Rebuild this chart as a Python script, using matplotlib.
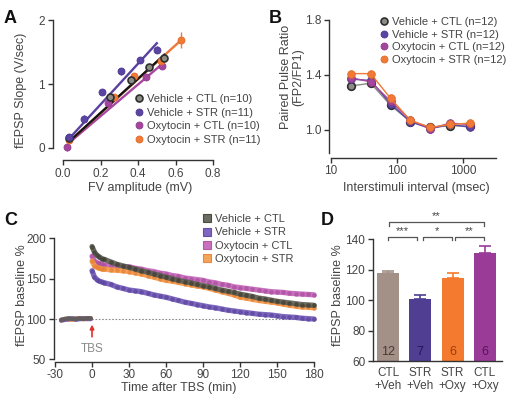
import numpy as np
import matplotlib
matplotlib.use("Agg")
import matplotlib.pyplot as plt
from matplotlib.lines import Line2D

plt.rcParams['font.family'] = ['Liberation Sans', 'DejaVu Sans']
plt.rcParams['axes.unicode_minus'] = False
TXT = '#444444'
plt.rcParams['text.color'] = TXT
plt.rcParams['axes.labelcolor'] = TXT
plt.rcParams['xtick.color'] = '#333333'
plt.rcParams['ytick.color'] = '#333333'
plt.rcParams['xtick.labelcolor'] = TXT
plt.rcParams['ytick.labelcolor'] = TXT

# ---------------- data ----------------
groups = ['Vehicle + CTL', 'Vehicle + STR', 'Oxytocin + CTL', 'Oxytocin + STR']
n_A = [10, 11, 10, 11]
n_B = [12, 12, 12, 12]

# Panel A: input-output
fv_veh_ctl = [0.03, 0.25, 0.36, 0.46, 0.54]
sl_veh_ctl = [0.15, 0.80, 1.07, 1.27, 1.41]
fv_veh_str = [0.03, 0.11, 0.21, 0.31, 0.41, 0.50]
sl_veh_str = [0.17, 0.46, 0.88, 1.20, 1.38, 1.54]
fv_oxy_ctl = [0.02, 0.24, 0.44, 0.53]
sl_oxy_ctl = [0.01, 0.70, 1.11, 1.28]
fv_oxy_str = [0.03, 0.27, 0.38, 0.52, 0.63]
sl_oxy_str = [0.13, 0.80, 1.12, 1.37, 1.69]
err_oxy_str = [0.03, 0.04, 0.05, 0.05, 0.12]
# fitted lines (x0, x1), (y0, y1)
fit_veh_ctl = ([0.04, 0.54], [0.12, 1.46])
fit_veh_str = ([0.04, 0.50], [0.17, 1.64])
fit_oxy_ctl = ([0.04, 0.535], [0.10, 1.33])
fit_oxy_str = ([0.04, 0.63], [0.12, 1.69])

# Panel B: paired pulse ratio
isi = [20, 40, 80, 160, 320, 640, 1280]
ppr_veh_ctl = [1.32, 1.34, 1.18, 1.06, 1.02, 1.03, 1.03]
ppr_veh_str = [1.37, 1.36, 1.19, 1.06, 1.01, 1.04, 1.02]
ppr_oxy_ctl = [1.38, 1.35, 1.21, 1.07, 1.01, 1.05, 1.04]
ppr_oxy_str = [1.41, 1.41, 1.23, 1.07, 1.02, 1.04, 1.05]

# Panel C: LTP time course
t_base = [-25, -22, -19, -16, -13, -10, -7, -4, -1]
base_veh_ctl = [99, 100, 101, 100, 100, 101, 100, 101, 101]
base_veh_str = [98, 99, 100, 101, 99, 100, 101, 100, 100]
base_oxy_ctl = [99, 100, 99, 100, 101, 100, 100, 101, 100]
base_oxy_str = [98, 100, 100, 99, 100, 101, 100, 100, 101]
t_post = [0, 2, 4, 6, 8, 10, 15, 20, 25, 30, 35, 40, 45, 50, 55, 60, 65, 70, 75, 80,
          85, 90, 95, 100, 105, 110, 115, 120, 125, 130, 135, 140, 145, 150, 155,
          160, 165, 170, 175, 180]
ltp_veh_ctl = [190, 183, 179, 177, 175, 174, 171, 168, 166, 164, 162, 160, 158, 156,
               154, 152, 150, 148, 146.5, 145, 143, 141.5, 140, 138, 136, 134.5, 133,
               131, 129.5, 128, 126, 125, 123.5, 122, 121, 120, 119, 118, 117.5, 117]
ltp_veh_str = [160, 152, 149, 147, 146, 145, 143, 140, 138, 136, 135, 134, 132, 130,
               128.5, 127, 125, 123, 121, 119.5, 118, 116.5, 115, 114, 112.5, 111, 110,
               109, 108, 107, 106, 105.5, 105, 104, 103, 102.5, 102, 101, 100.5, 100]
ltp_oxy_ctl = [178, 172, 170, 169, 168, 167, 166, 165, 165, 165, 163, 162, 160, 159,
               157, 156, 154, 153, 151, 150, 149, 148, 146, 145, 143, 142, 140, 139,
               138, 137, 136, 135, 134, 133.5, 133, 132, 131.5, 131, 130.5, 130]
ltp_oxy_str = [172, 166, 164, 163, 162, 162, 161, 160.5, 160, 159, 157.5, 156, 154,
               152, 150, 148, 147, 145.5, 144, 142.5, 141, 140, 138, 136, 134, 132, 130,
               127, 126, 124.5, 123, 122, 121, 120, 118.5, 117, 116, 115, 114.5, 114]

# Panel D: bars
bar_labels = ['CTL\n+Veh', 'STR\n+Veh', 'STR\n+Oxy', 'CTL\n+Oxy']
bar_vals = [117.8, 101.0, 114.5, 130.8]
bar_err = [1.5, 2.6, 3.3, 5.0]
bar_n = ['12', '7', '6', '6']
sig_x0 = [0.0, 1.08, 2.07, 0.03]
sig_x1 = [0.89, 1.97, 2.97, 2.97]
sig_levels = [141.7, 141.7, 141.7, 151.5]
sig_stars = ['***', '*', '**', '**']

# ---------------- styling ----------------
colA = ['#8c8c84', '#5a45a2', '#a4469e', '#f07a36']
edgeA = ['#2e2e2e', '#4a3690', '#903a8a', '#e06a28']
lineA = ['#151515', '#5a40a0', '#a8479f', '#f07838']
colC = ['#5c5c50', '#7058b6', '#c462b8', '#f39a4a']
edgeC = ['#3e3e36', '#5a44a0', '#a8509e', '#e88032']
colD = ['#a39087', '#4f3e92', '#f37a2e', '#9a3b98']
numD = ['#4a3a32', '#22185a', '#a03c0c', '#561456']

W, H = 514, 403
fig = plt.figure(figsize=(W / 100, H / 100), dpi=100)


def px_axes(l, t, r, b):
    return fig.add_axes([l / W, 1 - b / H, (r - l) / W, (b - t) / H])


def fx(x):
    return x / W


def fy(y):
    return 1 - y / H


def style(ax):
    for s in ['top', 'right']:
        ax.spines[s].set_visible(False)
    for s in ['left', 'bottom']:
        ax.spines[s].set_color('#333333')
        ax.spines[s].set_linewidth(1.0)
    ax.tick_params(direction='out', length=3.5, width=1.0, labelsize=8.5, pad=2)


FS_LAB = 9
FS_LEG = 8

# ---------------- Panel A ----------------
axA = px_axes(52.7, 17.1, 216.8, 160.1)
style(axA)
axA.set_xlim(-0.055, 0.82)
axA.set_ylim(-0.19, 2.05)
axA.spines['left'].set_bounds(0, 2)
axA.spines['bottom'].set_bounds(0, 0.8)
axA.set_xticks([0, 0.2, 0.4, 0.6, 0.8])
axA.set_xticklabels(['0.0', '0.2', '0.4', '0.6', '0.8'])
axA.set_yticks([0, 1, 2])
fitsA = [fit_veh_ctl, fit_veh_str, fit_oxy_ctl, fit_oxy_str]
ptsA = [(fv_veh_ctl, sl_veh_ctl), (fv_veh_str, sl_veh_str),
        (fv_oxy_ctl, sl_oxy_ctl), (fv_oxy_str, sl_oxy_str)]
for i in [2, 3, 0, 1]:
    fx_, fy_ = fitsA[i]
    axA.plot(fx_, fy_, color=lineA[i], lw=1.7, zorder=2)
for i in [2, 3, 0, 1]:
    xs, ys = ptsA[i]
    err = err_oxy_str if i == 3 else [0.05] * len(xs)
    axA.errorbar(xs, ys, yerr=err, fmt='o', ms=5, mfc=colA[i], mec=edgeA[i],
                 mew=1.2 if i == 0 else 0.6, ecolor=colA[i], elinewidth=1, capsize=0,
                 zorder=3)
handlesA = [Line2D([], [], marker='o', ls='none', ms=5, mfc=colA[i], mec=edgeA[i],
                   mew=1.2 if i == 0 else 0.6) for i in range(4)]
axA.legend(handlesA, [f'{g} (n={n})' for g, n in zip(groups, n_A)],
           loc='upper left', bbox_to_anchor=(fx(133.5), fy(94.0)),
           bbox_transform=fig.transFigure, frameon=False, fontsize=FS_LEG,
           borderpad=0, borderaxespad=0, handlelength=1.0, handletextpad=0.2,
           labelspacing=0.33)
fig.text(fx(140), fy(188), 'FV amplitude (mV)', ha='center', va='center', fontsize=FS_LAB)
fig.text(fx(21), fy(90), 'fEPSP Slope (V/sec)', ha='center', va='center',
         rotation=90, fontsize=FS_LAB)
fig.text(fx(10.5), fy(18.5), 'A', ha='center', va='center', fontsize=13,
         fontweight='bold', color='#111111')

# ---------------- Panel B ----------------
axB = px_axes(328.9, 13.1, 496.3, 157.5)
style(axB)
axB.set_xscale('log')
axB.set_xlim(9.3, 3200)
axB.set_ylim(0.80, 1.85)
axB.spines['left'].set_bounds(0.83, 1.8)
axB.spines['bottom'].set_bounds(10, 3200)
axB.set_xticks([10, 100, 1000])
axB.set_xticklabels(['10', '100', '1000'])
axB.xaxis.set_minor_locator(matplotlib.ticker.NullLocator())
axB.set_yticks([1.0, 1.4, 1.8])
axB.set_yticklabels(['1.0', '1.4', '1.8'])
pprs = [ppr_veh_ctl, ppr_veh_str, ppr_oxy_ctl, ppr_oxy_str]
for i in [0, 1, 2, 3]:
    axB.plot(isi, pprs[i], '-o', color=colA[i], lw=1.0, ms=5.5, mfc=colA[i],
             mec=edgeA[i], mew=1.2 if i == 0 else 0.6, zorder=3)
handlesB = [Line2D([], [], marker='o', ls='none', ms=5, mfc=colA[i], mec=edgeA[i],
                   mew=1.2 if i == 0 else 0.6) for i in range(4)]
axB.legend(handlesB, [f'{g} (n={n})' for g, n in zip(groups, n_B)],
           loc='upper left', bbox_to_anchor=(fx(378.5), fy(17.2)),
           bbox_transform=fig.transFigure, frameon=False, fontsize=FS_LEG,
           borderpad=0, borderaxespad=0, handlelength=1.0, handletextpad=0.2,
           labelspacing=0.22)
fig.text(fx(416), fy(188), 'Interstimuli interval (msec)', ha='center', va='center',
         fontsize=FS_LAB)
fig.text(fx(292), fy(77), 'Paired Pulse Ratio\n(FP2/FP1)', ha='center', va='center',
         rotation=90, fontsize=FS_LAB, linespacing=1.05)
fig.text(fx(275), fy(18.5), 'B', ha='center', va='center', fontsize=13,
         fontweight='bold', color='#111111')

# ---------------- Panel C ----------------
axC = px_axes(53.8, 226.4, 317.7, 361.7)
style(axC)
axC.set_xlim(-31, 183)
axC.set_ylim(47, 215)
axC.spines['left'].set_bounds(50, 200)
axC.spines['bottom'].set_bounds(-30, 180)
axC.set_xticks([-30, 0, 30, 60, 90, 120, 150, 180])
axC.set_yticks([50, 100, 150, 200])
axC.plot([-30, 180], [100, 100], ls=(0, (1.5, 1.5)), color='#8a8a8a', lw=0.8, zorder=1)
bases = [base_veh_ctl, base_veh_str, base_oxy_ctl, base_oxy_str]
ltps = [ltp_veh_ctl, ltp_veh_str, ltp_oxy_ctl, ltp_oxy_str]
for i in [2, 3, 1, 0]:
    axC.plot(t_base, bases[i], color=colC[i], lw=3.2, alpha=0.85, zorder=2,
             solid_capstyle='round')
    axC.plot(t_post, ltps[i], color=colC[i], lw=3.8, alpha=0.9, zorder=2,
             solid_capstyle='round')
    axC.plot(t_post, ltps[i], 'o', color=edgeC[i], ms=2.4, alpha=0.6, zorder=2)
handlesC = [Line2D([], [], marker='s', ls='none', ms=5.5, mfc=colC[i], mec=edgeC[i],
                   mew=0.8, alpha=0.9) for i in range(4)]
axC.legend(handlesC, groups, loc='upper left', bbox_to_anchor=(fx(201.5), fy(214.3)),
           bbox_transform=fig.transFigure, frameon=False, fontsize=FS_LEG,
           borderpad=0, borderaxespad=0, handlelength=1.0, handletextpad=0.2,
           labelspacing=0.28)
axC.annotate('', xy=(0, 93), xytext=(0, 78),
             arrowprops=dict(arrowstyle='-|>', color='#e0302a', lw=1.2,
                             mutation_scale=6, shrinkA=0, shrinkB=0))
axC.text(0, 63, 'TBS', ha='center', va='center', fontsize=8.5, color='#8a8a8a')
fig.text(fx(179), fy(388), 'Time after TBS (min)', ha='center', va='center',
         fontsize=FS_LAB)
fig.text(fx(22), fy(295), 'fEPSP baseline %', ha='center', va='center',
         rotation=90, fontsize=FS_LAB)
fig.text(fx(11), fy(220), 'C', ha='center', va='center', fontsize=13,
         fontweight='bold', color='#111111')

# ---------------- Panel D ----------------
axD = px_axes(372.8, 212, 501.7, 361)
style(axD)
axD.set_xlim(-0.47, 3.52)
axD.set_ylim(60, 158)
axD.spines['left'].set_bounds(60, 140)
axD.set_yticks([60, 80, 100, 120, 140])
xpos = np.arange(len(bar_vals))
axD.bar(xpos, np.array(bar_vals) - 60, bottom=60, width=0.68, color=colD, zorder=2)
for i in range(4):
    axD.errorbar(xpos[i], bar_vals[i], yerr=[[0], [bar_err[i]]], fmt='none',
                 ecolor=colD[i], elinewidth=1.2, capsize=4, capthick=1.2, zorder=3)
    axD.text(xpos[i], 66, bar_n[i], ha='center', va='center', fontsize=9,
             color=numD[i], zorder=4)
axD.set_xticks(xpos)
axD.set_xticklabels(bar_labels, linespacing=1.1)
axD.tick_params(axis='x', length=0, pad=4.5)
for x0, x1, lvl, st in zip(sig_x0, sig_x1, sig_levels, sig_stars):
    axD.plot([x0, x0, x1, x1], [lvl - 2.4, lvl, lvl, lvl - 2.4], color='#555555',
             lw=0.9, clip_on=False, zorder=3)
    axD.text((x0 + x1) / 2, lvl + 0.3, st, ha='center', va='bottom', fontsize=8,
             color='#444444', clip_on=False)
fig.text(fx(338), fy(295), 'fEPSP baseline %', ha='center', va='center',
         rotation=90, fontsize=FS_LAB)
fig.text(fx(327), fy(220), 'D', ha='center', va='center', fontsize=13,
         fontweight='bold', color='#111111')

fig.savefig('out.png', dpi=100, facecolor='white')
